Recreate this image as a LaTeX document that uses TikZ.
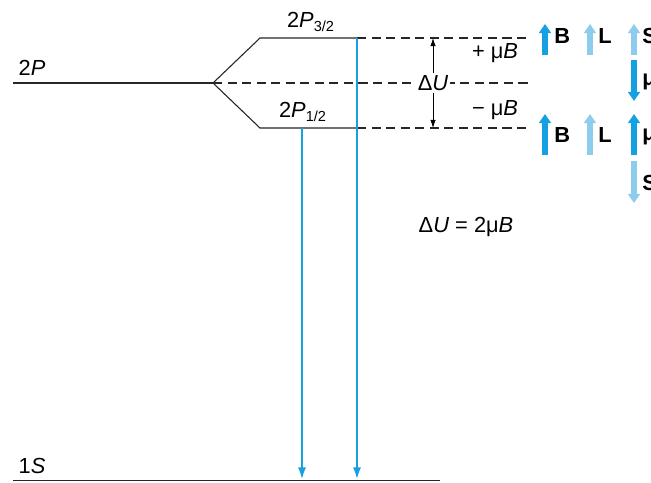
\documentclass[tikz,border=0pt]{standalone}
\usepackage{fontspec}
\setmainfont{Liberation Sans}
\usepackage{tikz}
\usetikzlibrary{arrows.meta}

\definecolor{darkblue}{RGB}{20,160,225}
\definecolor{lightblue}{RGB}{140,205,238}

\begin{document}
\begin{tikzpicture}[x=0.55pt,y=-0.55pt,
	every node/.style={font=\fontsize{12}{14}\selectfont},
	level/.style={draw=black!85,line width=0.6pt},
	sublevel/.style={draw=black!85,line width=0.6pt,dash pattern=on 5pt off 3pt},
	transition/.style={draw=darkblue,line width=1.4pt,-{Latex[width=4.5pt,length=7pt]}},
	fat/.style={line width=3.2pt,-{Triangle[width=6.5pt,length=5pt]}},
	vec/.style={font=\fontsize{12}{14}\selectfont\bfseries,anchor=west,inner sep=0pt}]
	\useasboundingbox (0,0) rectangle (651,482);

	\coordinate (pl) at (13,83);
	\coordinate (pf) at (213,83);
	\coordinate (ta) at (260,38);
	\coordinate (tb) at (357,38);
	\coordinate (te) at (530,38);
	\coordinate (ba) at (260,128);
	\coordinate (bc) at (302,128);
	\coordinate (bb) at (357,128);
	\coordinate (be) at (530,128);
	\coordinate (me) at (530,83);
	\coordinate (sl) at (13,480.5);
	\coordinate (sr) at (440,480.5);
	\coordinate (s1) at (302,480);
	\coordinate (s2) at (357,480);

	\node (l2p) at (32,68)  {2\textit{P}};
	\node (l1s) at (32,466) {1\textit{S}};
	\node (l32) at (311,22) {2\textit{P}\textsubscript{3/2}};
	\node (l12) at (303,112) {2\textit{P}\textsubscript{1/2}};

	% levels
	\path[level] (pl) -- (pf);
	\path[level] (pf) -- (ta) -- (tb);
	\path[level] (pf) -- (ba) -- (bb);
	\path[level] (sl) -- (sr);
	\path[sublevel] (tb) -- (te);
	\path[sublevel] (pf) -- (me);
	\path[sublevel] (bb) -- (be);

	% splitting
	\coordinate (dt) at (433,38);
	\coordinate (db) at (433,128);
	\node[fill=white,inner sep=1pt] (du) at (433,83) {Δ\textit{U}};
	\draw[-{Latex[length=4.5pt,width=3pt]}] (du) -- (dt);
	\draw[-{Latex[length=4.5pt,width=3pt]}] (du) -- (db);
	\node (pmb) at (495,53)  {+ μ\textit{B}};
	\node (mmb) at (495,110) {− μ\textit{B}};
	\node (eq) at (466,227) {Δ\textit{U} = 2μ\textit{B}};

	% transitions
	\path[transition] (bc) -- (s1);
	\path[transition] (tb) -- (s2);

	% orientations
	\coordinate (b1a) at (545,55);  \coordinate (b1b) at (545,24);
	\coordinate (l1a) at (590,55);  \coordinate (l1b) at (590,24);
	\coordinate (s1a) at (634,55);  \coordinate (s1b) at (634,24);
	\coordinate (m1a) at (634,60);  \coordinate (m1b) at (634,101);
	\coordinate (b2a) at (545,155); \coordinate (b2b) at (545,114);
	\coordinate (l2a) at (590,155); \coordinate (l2b) at (590,114);
	\coordinate (m2a) at (634,155); \coordinate (m2b) at (634,114);
	\coordinate (s2a) at (634,161); \coordinate (s2b) at (634,203);
	\draw[fat,darkblue]  (b1a) -- (b1b);
	\draw[fat,lightblue] (l1a) -- (l1b);
	\draw[fat,lightblue] (s1a) -- (s1b);
	\draw[fat,darkblue]  (m1a) -- (m1b);
	\draw[fat,darkblue]  (b2a) -- (b2b);
	\draw[fat,lightblue] (l2a) -- (l2b);
	\draw[fat,darkblue]  (m2a) -- (m2b);
	\draw[fat,lightblue] (s2a) -- (s2b);
	\node[vec] (vb1) at (554,36)  {B};
	\node[vec] (vl1) at (598,36)  {L};
	\node[vec] (vs1) at (642,36)  {S};
	\node[vec] (vm1) at (642,82)  {μ};
	\node[vec] (vb2) at (554,135) {B};
	\node[vec] (vl2) at (598,135) {L};
	\node[vec] (vm2) at (642,137) {μ};
	\node[vec] (vs2) at (642,183) {S};

\end{tikzpicture}
\end{document}
